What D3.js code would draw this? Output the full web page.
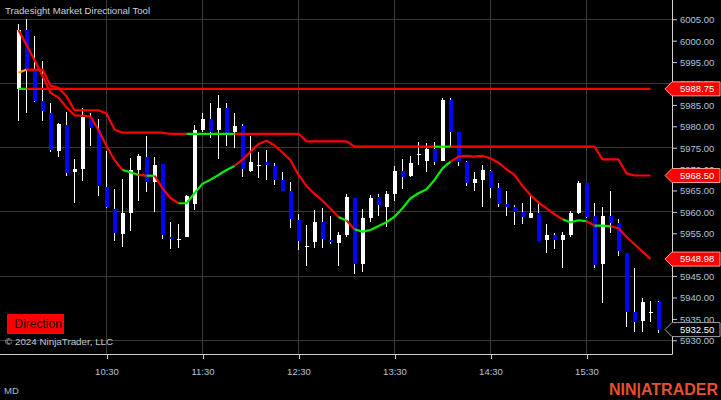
<!DOCTYPE html>
<html><head><meta charset="utf-8">
<script src="https://cdn.jsdelivr.net/npm/d3@7"></script>
<style>html,body{margin:0;padding:0;background:#000;}svg{display:block}</style>
</head><body><svg id="c" width="721" height="400"></svg>
<script>
// ---------- data ----------
const firstBar = "09:35";
const barMinutes = 5;
const open  = [5988.75,6002.5,5993.25,5986,5983,5974.25,5980.25,5969.25,5970,5982.25,5979.25,5965.75,5960.75,5954.75,5959.75,5969.75,5972.75,5967,5971.25,5954.25,5953.75,5954.25,5961.75,5979.25,5981.75,5979.25,5984.25,5978.75,5980,5969.5,5971,5971.75,5970.75,5967.5,5965,5958,5952,5953,5957.75,5953.5,5952.75,5954.5,5963.25,5947.75,5958.5,5963.5,5961.25,5964.25,5969.5,5968.5,5973.5,5972,5974.75,5972,5986.25,5978.75,5971.75,5966.75,5967.5,5969.5,5965.5,5961.75,5961.25,5960,5958.5,5959.75,5953.5,5954.5,5953.5,5954.5,5959.75,5966.75,5959,5947.75,5959,5957.5,5950.5,5936.5,5934.5,5936.5,5939];
const high  = [6004,6005,6001,5995.25,5985.5,5980.75,5983.25,5972.25,5984.25,5983,5981.75,5974.25,5965.25,5967.75,5972.5,5973.5,5977.75,5972.75,5971.25,5957.75,5957.25,5964,5980.25,5983,5985.5,5987.25,5985.5,5983,5980.5,5977.75,5974,5974.5,5971.5,5969.25,5967,5959.5,5957,5960.5,5961,5959,5955.25,5964.25,5963.25,5960.75,5964,5964.25,5965,5970.75,5972.25,5973,5976.25,5976,5976.25,5986.5,5986.5,5978.75,5972,5969.25,5971,5969.75,5966.75,5965,5961.5,5962,5964.25,5962.25,5957.25,5955,5955.25,5960.25,5967.25,5966.75,5962,5961.25,5965,5958.25,5950.5,5947,5940,5939.25,5939.25];
const low   = [5981.25,5983,5985.75,5981.25,5974,5972.75,5968.5,5962,5967.25,5975.5,5963.75,5961,5953.25,5951.75,5955.5,5962.5,5964.75,5960,5953.75,5951.25,5951.5,5954.25,5960.5,5978.75,5977.25,5972.25,5975.5,5975,5968.25,5969.25,5968,5967.5,5966.25,5965,5956.25,5951,5947.25,5951.5,5951.5,5952.5,5947.25,5954.25,5945.5,5946,5957.75,5959,5956.5,5962.5,5965.25,5968.25,5971,5969.25,5971,5972,5975.25,5970.75,5966,5965,5961.25,5963.25,5961.25,5959,5957,5957.25,5958.5,5953.25,5950.5,5951.25,5947,5954.25,5959.5,5958.5,5947,5938.75,5955,5949.75,5933,5932,5932,5934.25,5931.75];
const close = [6002.5,5993.25,5986,5983.5,5974.5,5980.5,5969,5970,5982.25,5979.5,5966,5961.25,5955,5959.75,5969.75,5973,5967,5971,5954.5,5953.75,5953.75,5963.75,5979.25,5981.75,5978.75,5984.25,5978.5,5980,5970,5971.75,5971,5971,5967.5,5965,5958.25,5953.25,5952,5957.75,5953.75,5953,5954.5,5963.5,5947.75,5958.5,5963.25,5961.5,5964.25,5969.5,5968.25,5971.5,5973.5,5974.75,5971.75,5986.25,5978.75,5971.75,5966.75,5967.75,5969.75,5965.5,5961.75,5961.25,5960,5958.75,5959.75,5953.25,5954.5,5953.5,5954.5,5959.75,5966.75,5958.75,5947.5,5959,5957.5,5950.75,5936.5,5934.25,5939,5936.5,5932.5];

// indicator: opening range level (bars 0..79)
const rangeLevel = 5988.75;
const rangeBars = 80;
const rangeGreen = [[0,1]];
// indicator: step line (bars 0..79)
const stepLine = [5992.5,5993.25,5993.25,5993.25,5989.5,5989,5987,5983.75,5983.75,5983.75,5983.75,5983,5979.25,5978.5,5978.5,5978.5,5978.5,5978.5,5978.5,5978.25,5978.25,5978.25,5978.25,5978.25,5978.25,5978.25,5978.25,5978.25,5978.25,5978.25,5978.25,5978.25,5978.25,5978.25,5978.25,5978.25,5976.5,5976.5,5976.5,5976.5,5976.5,5976.5,5975.25,5975.25,5975.25,5975.25,5975.25,5975.25,5975.25,5975.25,5975.25,5975.25,5975.25,5975.25,5975.25,5975.25,5975.25,5975.25,5975.25,5975.25,5975.25,5975.25,5975.25,5975.25,5975.25,5975.25,5975.25,5975.25,5975.25,5975.25,5975.25,5975.25,5975.25,5972.25,5972.25,5972.25,5969,5968.5,5968.5,5968.5];
const stepOrange = [[0,1]];
const stepGreen = [[21,27],[52,54]];
// indicator: trend line (bars 0..79)
const trendLine = [6002.5,5999,5995.5,5991.75,5987.85,5986.7,5984.45,5982.57,5982.5,5982.25,5979.14,5975.4,5972.13,5969.8,5969.26,5968.63,5968.46,5968.46,5965.52,5963.25,5962.02,5962.02,5964.35,5966.6,5967.53,5968.63,5969.8,5970.73,5972.2,5974.07,5975.87,5976.64,5975.52,5973.88,5972.06,5968.63,5966.06,5964.19,5962.62,5960.75,5958.82,5958,5955.94,5955.38,5955.78,5956.71,5957.58,5958.89,5960.85,5963.18,5964.35,5965.29,5967.46,5970.19,5971.73,5972.9,5973.07,5972.9,5973.07,5972.53,5971.5,5969.96,5968.63,5966.06,5963.95,5962.16,5960.85,5959.45,5958.28,5957.58,5958.05,5957.81,5956.78,5956.78,5956.64,5956.17,5954.21,5952.44,5950.71,5948.98];
const trendGreen = [[13,15],[16,17],[20,27],[40,41],[42,54],[68,71],[72,74]];

const xTickLabels = ["10:30","11:30","12:30","13:30","14:30","15:30"];
const yTickValues = [5930,5935,5940,5945,5950,5955,5960,5965,5970,5975,5980,5985,5990,5995,6000,6005];
const gridValues  = [5930,5945,5960,5975,5990,6005];

// ---------- drawing ----------
const FONT = "Arial, 'Liberation Sans', sans-serif";
const svg = d3.select("#c");
svg.append("rect").attr("width",721).attr("height",400).attr("fill","#000");

const parse = d3.timeParse("%H:%M");
const t0 = parse(firstBar);
const times = open.map((_, i) => d3.timeMinute.offset(t0, i * barMinutes));
const x = d3.scaleTime().domain([parse("10:30"), parse("15:30")]).range([106.5, 586.5]);
const y = d3.scaleLinear().domain([5930, 6005]).range([340.3, 19.3]);

const plotR = 672, plotB = 354;

// grid
const grid = svg.append("g").attr("stroke","#383838").attr("stroke-width",1);
grid.selectAll("line.v").data(xTickLabels).join("line")
  .attr("x1", d => Math.floor(x(parse(d))) + 0.5).attr("x2", d => Math.floor(x(parse(d))) + 0.5)
  .attr("y1", 0).attr("y2", plotB);
grid.selectAll("line.h").data(gridValues).join("line")
  .attr("x1", 0).attr("x2", plotR)
  .attr("y1", d => Math.floor(y(d)) + 0.5).attr("y2", d => Math.floor(y(d)) + 0.5);

// candles
const cg = svg.append("g");
times.forEach((t, i) => {
  const cx = Math.floor(x(t));
  const o = open[i], c = close[i];
  cg.append("rect").attr("x", cx).attr("width", 1)
    .attr("y", Math.round(y(high[i]))).attr("height", Math.max(1, Math.round(y(low[i])) - Math.round(y(high[i]))))
    .attr("fill", "#fff");
  const top = Math.round(y(Math.max(o, c))), bot = Math.round(y(Math.min(o, c)));
  cg.append("rect").attr("x", cx - 1).attr("width", 4)
    .attr("y", top).attr("height", Math.max(1, bot - top))
    .attr("fill", c < o ? "#0000ff" : "#ffffff");
});

// colored polyline helper
function inRanges(seg, ranges) { return ranges.some(r => seg > r[0] && seg <= r[1]); }
function drawLine(vals, colorOf) {
  const pts = vals.map((v, i) => [x(times[i]), y(v)]);
  let runStart = 1, runCol = colorOf(1);
  const g = svg.append("g").attr("fill","none").attr("stroke-width",2.2)
    .attr("stroke-linejoin","round").attr("stroke-linecap","butt");
  const flush = (s, e, col) => {
    g.append("path").attr("d", d3.line()(pts.slice(s - 1, e + 1))).attr("stroke", col);
  };
  for (let i = 2; i < vals.length; i++) {
    const col = colorOf(i);
    if (col !== runCol) { flush(runStart, i - 1, runCol); runStart = i; runCol = col; }
  }
  flush(runStart, vals.length - 1, runCol);
}
const RED = "#ff0000", GREEN = "#00ee00", ORANGE = "#ffa500";
drawLine(d3.range(rangeBars).map(() => rangeLevel), i => inRanges(i, rangeGreen) ? GREEN : RED);
drawLine(trendLine, i => inRanges(i, trendGreen) ? GREEN : RED);
drawLine(stepLine, i => inRanges(i, stepOrange) ? ORANGE : (inRanges(i, stepGreen) ? GREEN : RED));

// axes frame
svg.append("path").attr("d", `M0,${plotB+0.5}H${plotR+0.5}V0`).attr("fill","none").attr("stroke","#d0d0d0");

// x axis
const xAxis = d3.axisBottom(x).tickValues(xTickLabels.map(parse)).tickFormat(d3.timeFormat("%H:%M"))
  .tickSize(5).tickSizeOuter(0);
const gx = svg.append("g").attr("transform", `translate(0,${plotB})`).call(xAxis);
gx.select(".domain").remove();
gx.selectAll(".tick line").attr("stroke","#d0d0d0").attr("transform","translate(0.5,0)");
gx.selectAll(".tick text").attr("fill","#b0c4de").attr("font-family",FONT).attr("font-size","9.5px")
  .attr("y", 21).attr("dy", 0);

// y axis
const yAxis = d3.axisRight(y).tickValues(yTickValues).tickFormat(d3.format(".2f")).tickSize(5).tickPadding(3).tickSizeOuter(0);
const gy = svg.append("g").attr("transform", `translate(${plotR},0)`).call(yAxis);
gy.select(".domain").remove();
gy.selectAll(".tick line").attr("stroke","#d0d0d0");
gy.selectAll(".tick text").attr("fill","#b0c4de").attr("font-family",FONT).attr("font-size","9.5px").attr("dy","0.36em");

// price tags
function tag(v, fill, stroke) {
  const cy = y(v);
  const g = svg.append("g");
  g.append("path").attr("d", `M665,${cy}L672,${cy-7}H720V${cy+7}H672Z`)
    .attr("fill", fill).attr("stroke", stroke).attr("stroke-width", 1);
  g.append("text").attr("x", 680).attr("y", cy).attr("dy","0.36em").text(d3.format(".2f")(v))
    .attr("fill","#fff").attr("font-family",FONT).attr("font-size","9.5px");
}
tag(rangeLevel, "#ff0000", "#ff9a9a");
tag(stepLine[stepLine.length-1], "#ff0000", "#ff9a9a");
tag(trendLine[trendLine.length-1], "#ff0000", "#ff9a9a");
tag(close[close.length-1], "#000000", "#a0a0a0");

// texts
svg.append("text").attr("x",5).attr("y",13.5).text("Tradesight Market Directional Tool")
  .attr("fill","#c8d2dc").attr("font-family",FONT).attr("font-size","9.6px");
svg.append("rect").attr("x",7).attr("y",314).attr("width",57).attr("height",20).attr("fill","#ff0000");
svg.append("text").attr("x",14.5).attr("y",328).text("Direction")
  .attr("fill","#200000").attr("font-family",FONT).attr("font-size","12px");
svg.append("text").attr("x",5).attr("y",345).text("© 2024 NinjaTrader, LLC")
  .attr("fill","#c0c8d0").attr("font-family",FONT).attr("font-size","9.8px");
svg.append("text").attr("x",4).attr("y",393.5).text("MD")
  .attr("fill","#b8b8b8").attr("font-family",FONT).attr("font-size","9.5px");
svg.append("text").attr("x",718).attr("y",395).attr("text-anchor","end").text("NIN|ATRADER")
  .attr("fill","#e5502d").attr("font-family",FONT).attr("font-weight","bold").attr("font-size","16px");
</script></body></html>
